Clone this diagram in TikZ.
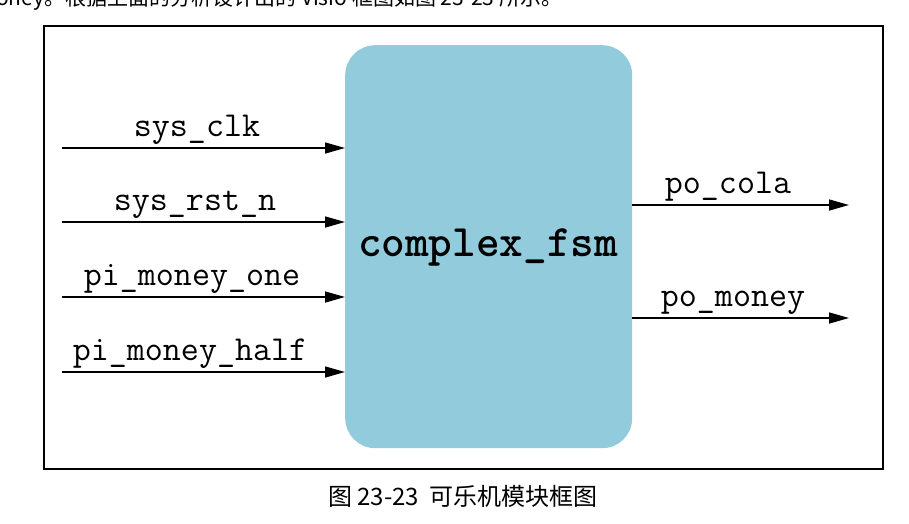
\documentclass[tikz,border=0pt]{standalone}
\usepackage{fontspec}
\newfontfamily\cjk{Noto Sans CJK SC}
\usetikzlibrary{arrows.meta}
\definecolor{boxblue}{RGB}{146,204,220}
\tikzset{
  sig/.style={draw=black,line width=1.5pt,-{Triangle[length=20pt,width=11pt]}},
  lab/.style={font=\ttfamily\fontsize{35}{35}\selectfont,inner sep=0pt,anchor=base},
}
\begin{document}
\begin{tikzpicture}[x=1pt,y=-1pt]
\useasboundingbox (0,0) rectangle (909,523);
\begin{scope}
\clip (0,0) rectangle (909,523);
\node[anchor=base west,inner sep=0pt,font=\cjk\fontsize{21}{21}\selectfont] (top) at (-4,5) {oney。根据上面的分析设计出的 Visio 框图如图 23-23 所示。};
\end{scope}
\node[draw=black,line width=1.5pt,minimum width=839pt,minimum height=443pt,inner sep=0pt,anchor=north west] (frame) at (43,25) {};
\node[fill=boxblue,rounded corners=30pt,minimum width=287pt,minimum height=403pt,inner sep=0pt,anchor=north west] (fsm) at (345,45) {};
\node[font=\ttfamily\bfseries\fontsize{45}{45}\selectfont,inner sep=0pt] (name) at (488,247) {complex\_fsm};
\coordinate (i1) at (62,148); \coordinate (i2) at (62,222);
\coordinate (i3) at (62,297); \coordinate (i4) at (62,372);
\draw[sig] (i1) -- (fsm.west |- i1);
\draw[sig] (i2) -- (fsm.west |- i2);
\draw[sig] (i3) -- (fsm.west |- i3);
\draw[sig] (i4) -- (fsm.west |- i4);
\node[lab] (l1) at (197,136) {sys\_clk};
\node[lab] (l2) at (195,210) {sys\_rst\_n};
\node[lab] (l3) at (192,285) {pi\_money\_one};
\node[lab] (l4) at (190,360) {pi\_money\_half};
\coordinate (o1) at (849,205); \coordinate (o2) at (849,318);
\draw[sig] (fsm.east |- o1) -- (o1);
\draw[sig] (fsm.east |- o2) -- (o2);
\node[lab] (l5) at (728,193) {po\_cola};
\node[lab] (l6) at (733,306) {po\_money};
\node[font=\cjk\fontsize{24}{24}\selectfont,inner sep=0pt] (cap) at (463,496) {图 23-23\ \ 可乐机模块框图};
\end{tikzpicture}
\end{document}
